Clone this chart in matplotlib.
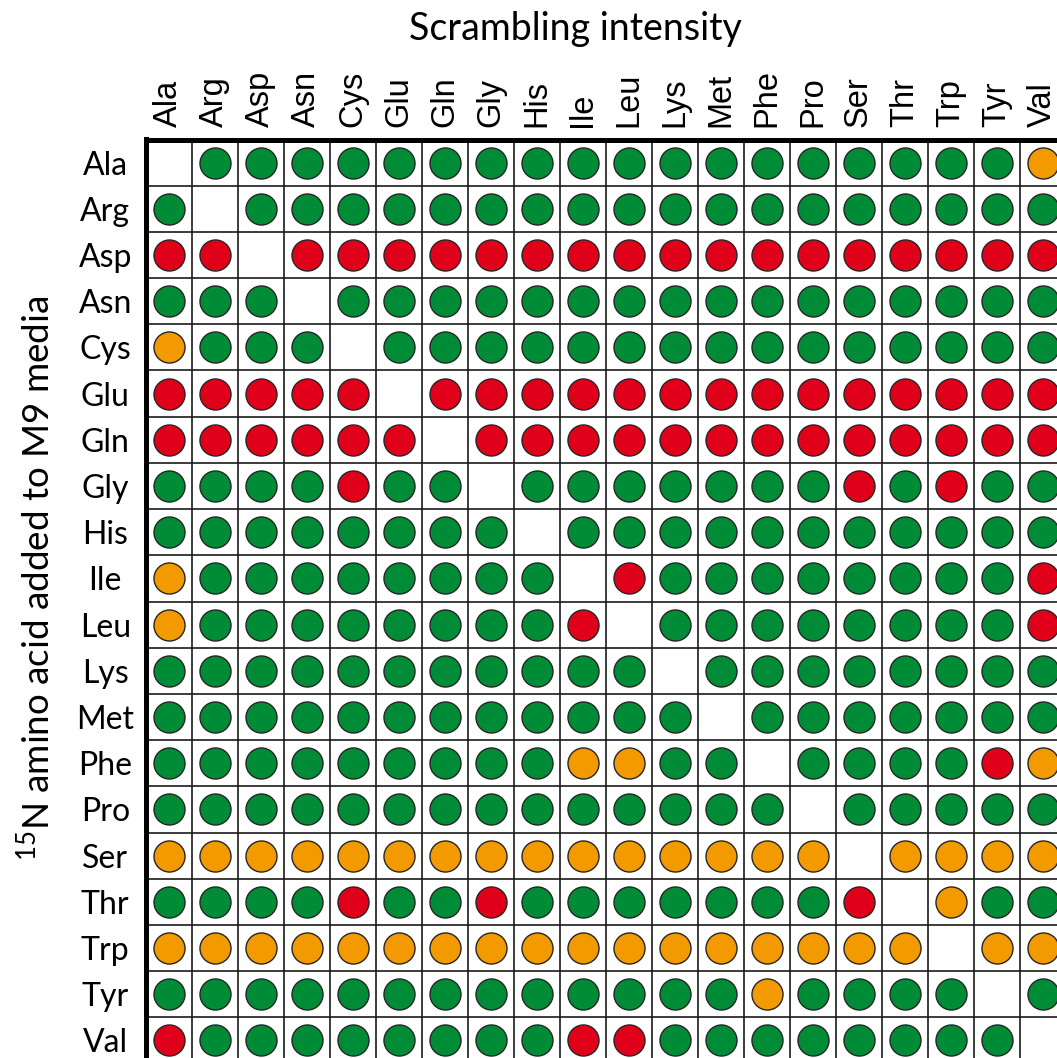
import numpy as np
import matplotlib
matplotlib.use("Agg")
import matplotlib.pyplot as plt

plt.rcParams["mathtext.fontset"] = "custom"
plt.rcParams["mathtext.rm"] = "Lato"
plt.rcParams["mathtext.it"] = "Lato:italic"

amino_acids = ["Ala", "Arg", "Asp", "Asn", "Cys", "Glu", "Gln", "Gly", "His", "Ile",
               "Leu", "Lys", "Met", "Phe", "Pro", "Ser", "Thr", "Trp", "Tyr", "Val"]

# Scrambling level per labelled amino acid (rows) and observed residue (columns):
# L = low, M = medium, H = high, "." = the labelled residue itself
scrambling = [
    ".LLLLLLLLLLLLLLLLLLM",  # Ala
    "L.LLLLLLLLLLLLLLLLLL",  # Arg
    "HH.HHHHHHHHHHHHHHHHH",  # Asp
    "LLL.LLLLLLLLLLLLLLLL",  # Asn
    "MLLL.LLLLLLLLLLLLLLL",  # Cys
    "HHHHH.HHHHHHHHHHHHHH",  # Glu
    "HHHHHH.HHHHHHHHHHHHH",  # Gln
    "LLLLHLL.LLLLLLLHLHLL",  # Gly
    "LLLLLLLL.LLLLLLLLLLL",  # His
    "MLLLLLLLL.HLLLLLLLLH",  # Ile
    "MLLLLLLLLH.LLLLLLLLH",  # Leu
    "LLLLLLLLLLL.LLLLLLLL",  # Lys
    "LLLLLLLLLLLL.LLLLLLL",  # Met
    "LLLLLLLLLMMLL.LLLLHM",  # Phe
    "LLLLLLLLLLLLLL.LLLLL",  # Pro
    "MMMMMMMMMMMMMMM.MMMM",  # Ser
    "LLLLHLLHLLLLLLLH.MLL",  # Thr
    "MMMMMMMMMMMMMMMMM.MM",  # Trp
    "LLLLLLLLLLLLLMLLLL.L",  # Tyr
    "HLLLLLLLLHHLLLLLLLL.",  # Val
]

level_colors = {"L": "#008c36", "M": "#f29a00", "H": "#e1001a"}

W, H = 1057, 1058
fig = plt.figure(figsize=(W / 100, H / 100), dpi=100)

# grid geometry in pixels
x0, y0 = 145.5, 139.5
cw, ch = 46.0, 46.2
n = len(amino_acids)
ax = fig.add_axes([x0 / W, 1 - (y0 + n * ch) / H, n * cw / W, n * ch / H])
ax.set_xlim(-0.5, n - 0.5)
ax.set_ylim(n - 0.5, -0.5)

# cell borders
ax.set_xticks(np.arange(-0.5, n, 1.0), minor=True)
ax.set_yticks(np.arange(-0.5, n, 1.0), minor=True)
ax.grid(which="minor", color="#1a1a1a", linewidth=1.2)
ax.tick_params(which="minor", length=0)
ax.set_axisbelow(True)

grid = np.array([list(r) for r in scrambling])
for lvl, col in level_colors.items():
    rr, cc = np.where(grid == lvl)
    ax.scatter(cc, rr, s=500, color=col, edgecolors="#262626", linewidths=1.0,
               zorder=3, clip_on=True)

# column labels along the top
ax.xaxis.tick_top()
ax.set_xticks(range(n))
ax.set_xticklabels(amino_acids, rotation=90, fontsize=23.5, family="Liberation Sans")
ax.tick_params(axis="x", which="major", length=0, pad=9)

# row labels centred left of the grid
ax.set_yticks(range(n))
ax.set_yticklabels(amino_acids, fontsize=23, family="Lato")
ax.tick_params(axis="y", which="major", length=0, pad=29)
for lab in ax.get_yticklabels():
    lab.set_horizontalalignment("center")
    lab.set_verticalalignment("center_baseline")

for side in ("right", "bottom"):
    ax.spines[side].set_visible(False)
for side in ("top", "left"):
    ax.spines[side].set_linewidth(3.6)
    ax.spines[side].set_color("black")

fig.text(575 / W, 1 - 40 / H, "Scrambling intensity", ha="center", va="baseline",
         fontsize=27, family="Lato")
fig.text(37 / W, 1 - 578 / H, r"$^{\mathregular{15}}$N amino acid added to M9 media",
         rotation=90, ha="center", va="center", fontsize=26.5, family="Lato")

fig.savefig("out.png", dpi=100)
